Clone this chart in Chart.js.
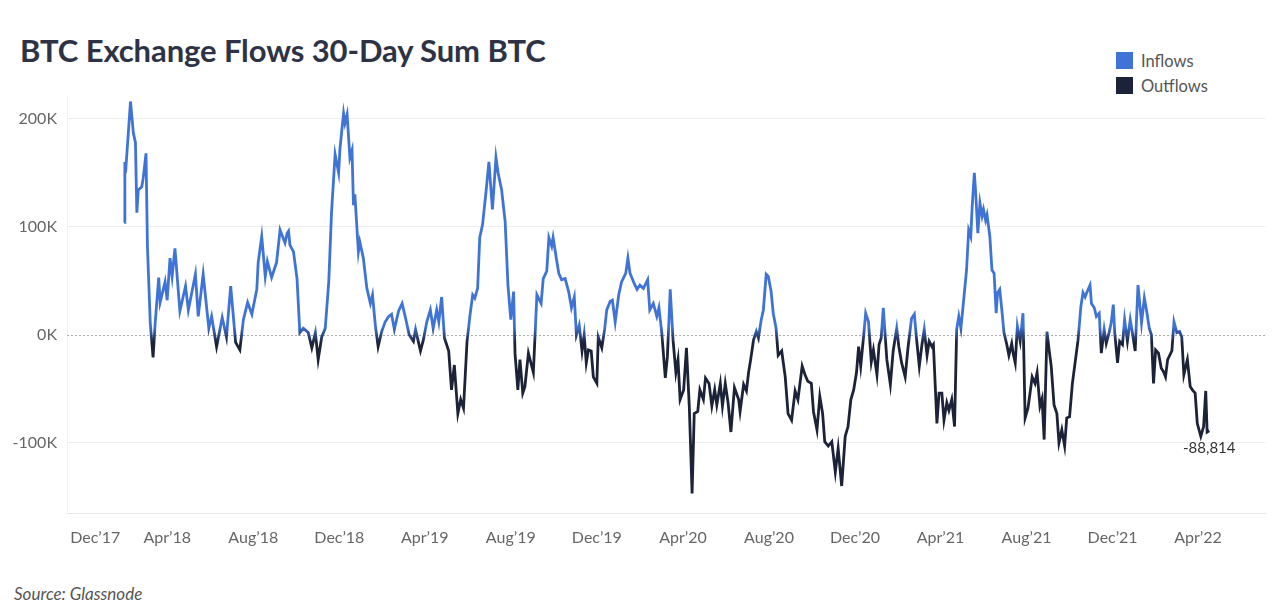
<!DOCTYPE html>
<html>
<head>
<meta charset="utf-8">
<script src="https://cdn.jsdelivr.net/npm/chart.js@4.4.1/dist/chart.umd.min.js"></script>
<style>
  html, body { margin:0; padding:0; background:#fff; }
  body { width:1280px; height:609px; position:relative; overflow:hidden; font-family:Lato, "Noto Sans", sans-serif; }
  #title { position:absolute; left:20px; top:31px; font-size:31px; font-weight:700; color:#2d3345; white-space:nowrap; letter-spacing:-0.1px; }
  .leg { position:absolute; left:1116px; font-size:16.5px; color:#555; white-space:nowrap; }
  .leg i { display:inline-block; width:17px; height:17px; vertical-align:middle; margin-right:8px; position:relative; top:-2px; }
  #src { position:absolute; left:14px; top:583px; font-size:17px; font-style:italic; color:#555; }
  #cv { position:absolute; left:0; top:0; }
</style>
</head>
<body>
<div id="title">BTC Exchange Flows 30-Day Sum BTC</div>
<div class="leg" style="top:51px"><i style="background:#3f73d5"></i>Inflows</div>
<div class="leg" style="top:76px"><i style="background:#1c2237"></i>Outflows</div>
<div id="src">Source: Glassnode</div>
<canvas id="cv" width="1280" height="609"></canvas>
<script>
// x = days since 1 Dec 2017, y = 30-day net exchange flow in thousands of BTC
const dayOffsets = [
  60,61,62,69,73,76,78,80,85,87,91,93,97,101,104,109,111,118,121,125,128,132,139,147,151,161,165,172,180,184,
  191,199,205,211,218,224,229,235,241,248,250,255,260,263,269,276,281,288,291,293,295,300,305,309,314,321,326,331,335,340,
  345,350,354,359,364,366,371,373,376,380,383,385,387,392,394,399,404,409,412,416,420,425,430,435,439,443,449,454,459,464,
  470,473,480,484,489,494,498,503,506,510,514,520,524,528,533,537,541,546,550,554,557,561,564,568,573,577,582,587,590,595,
  600,604,608,612,614,618,621,625,628,633,640,645,651,654,659,662,666,668,673,676,680,685,690,694,698,701,705,709,712,715,
  718,722,725,730,732,737,741,744,749,752,756,761,765,771,774,777,782,787,791,796,802,805,810,815,818,822,827,830,834,838,
  842,845,848,853,857,861,865,868,873,876,881,884,889,893,897,900,905,908,912,916,920,925,931,933,938,942,945,948,952,956,
  959,963,966,970,973,977,980,984,987,992,997,1001,1006,1011,1015,1021,1025,1029,1034,1037,1042,1046,1050,1053,1058,1063,1068,1072,1077,1082,
  1086,1090,1094,1098,1101,1104,1108,1111,1115,1119,1122,1127,1130,1133,1136,1141,1146,1150,1155,1158,1162,1167,1171,1176,1180,1183,1187,1191,1194,1198,
  1201,1205,1207,1212,1215,1219,1222,1226,1229,1233,1237,1240,1243,1246,1249,1254,1257,1260,1262,1265,1267,1270,1273,1276,1278,1281,1283,1287,1290,1293,
  1296,1298,1301,1304,1307,1311,1314,1318,1320,1323,1326,1330,1334,1337,1341,1344,1347,1351,1354,1358,1361,1364,1368,1371,1374,1378,1382,1385,1389,1393,
  1396,1400,1404,1409,1412,1416,1419,1422,1425,1429,1431,1435,1438,1442,1445,1449,1452,1456,1459,1462,1464,1468,1471,1475,1478,1482,1486,1489,1493,1497,
  1502,1506,1509,1513,1516,1519,1522,1526,1530,1533,1536,1539,1545,1548,1552,1556,1559,1562,1567,1571,1574,1578,1581,1586,1590,1593,1595,1598
];
const flowsK = [
  104,160,150,216,187,178,113,134,137,145,168,82,11,-21,11,53,30,49,32,71,54,80,22,45,23,56,17,56,6,17,
  -11,16,-2,45,-7,-14,14,30,19,42,67,91,54,68,53,67,97,85,94,96,83,77,52,2,6,2,-12,2,-23,-2,
  6,49,114,167,150,173,205,196,204,164,171,120,130,77,86,71,43,29,37,9,-11,3,12,17,19,5,22,29,15,0,
  -6,5,-15,-5,12,23,6,23,12,35,-3,-15,-51,-28,-73,-60,-68,-6,17,37,34,43,90,102,133,160,116,164,150,134,
  105,46,14,40,-17,-51,-23,-54,-48,-17,-35,37,29,52,59,90,82,90,69,57,51,52,40,25,35,0,9,-15,0,-26,
  -14,-15,-39,-45,-2,-12,5,23,31,32,12,37,49,57,71,57,49,42,46,43,51,23,29,17,25,2,-40,-20,42,-5,
  -35,-23,-60,-51,-12,-66,-147,-73,-71,-51,-60,-40,-45,-66,-51,-65,-45,-66,-45,-63,-90,-49,-60,-71,-46,-52,-35,-23,-5,3,
  -3,14,23,56,54,40,20,6,-19,-15,-39,-73,-79,-52,-60,-29,-37,-43,-45,-71,-88,-57,-73,-99,-103,-99,-127,-105,-140,-94,
  -85,-60,-51,-35,-11,-29,-2,20,12,-25,-14,-37,-9,-3,25,-23,-46,-15,6,-11,-26,-39,-12,15,19,-3,-29,-8,5,-19,
  -6,-11,-9,-82,-54,-54,-79,-63,-70,-60,-85,5,17,6,26,60,97,91,119,150,131,94,122,110,116,106,111,91,60,57,
  20,39,42,23,2,-9,-19,-8,-17,-26,8,-6,20,-77,-68,-54,-39,-45,-35,-66,-59,-97,3,-14,-29,-65,-73,-100,-88,-103,
  -77,-76,-45,-20,-5,26,39,35,40,46,29,25,17,20,-17,5,-8,2,11,28,2,-26,-6,-9,14,-6,14,2,-15,46,
  11,34,23,6,0,-45,-14,-17,-31,-34,-39,-23,-15,12,2,3,-2,-37,-23,-48,-51,-54,-82,-94,-85,-52,-90,-88.814
];
const tickDays   = [19,121,243,365,486,608,730,852,974,1096,1217,1339,1461,1582];
const tickLabels = ['Dec’17','Apr’18','Aug’18','Dec’18','Apr’19','Aug’19','Dec’19','Apr’20','Aug’20','Dec’20','Apr’21','Aug’21','Dec’21','Apr’22'];
const yTicks     = [-100000, 0, 100000, 200000];

const BLUE = '#3f73d5', NAVY = '#1c2237';
const points = dayOffsets.map((d, i) => ({ x: d, y: flowsK[i] * 1000 }));

// blue above zero, navy below, short blend at the zero line
function lineColor(ctx) {
  const ch = ctx.chart, area = ch.chartArea;
  if (!area) return BLUE;
  const y0 = ch.scales.y.getPixelForValue(0);
  const h = area.bottom - area.top;
  const t = (y0 - area.top) / h, b = 8 / h;
  const g = ch.ctx.createLinearGradient(0, area.top, 0, area.bottom);
  g.addColorStop(0, BLUE);
  g.addColorStop(Math.max(0, t - b), BLUE);
  g.addColorStop(Math.min(1, t + b), NAVY);
  g.addColorStop(1, NAVY);
  return g;
}

const zeroLine = {
  id: 'zeroLine',
  beforeDatasetsDraw(ch) {
    const { ctx, chartArea: a } = ch;
    const y = Math.round(ch.scales.y.getPixelForValue(0)) + 0.5;
    ctx.save();
    ctx.strokeStyle = '#a9a9a9'; ctx.lineWidth = 1; ctx.setLineDash([2, 2]);
    ctx.beginPath(); ctx.moveTo(a.left, y); ctx.lineTo(a.right, y); ctx.stroke();
    ctx.restore();
  }
};

const lastLabel = {
  id: 'lastLabel',
  afterDatasetsDraw(ch) {
    const meta = ch.getDatasetMeta(0);
    const p = meta.data[meta.data.length - 1];
    const v = flowsK[flowsK.length - 1] * 1000;
    const ctx = ch.ctx;
    ctx.save();
    ctx.font = '15px Lato, "Noto Sans", sans-serif';
    ctx.fillStyle = '#333'; ctx.textAlign = 'center'; ctx.textBaseline = 'middle';
    ctx.fillText(Math.round(v).toLocaleString('en-US'), p.x, p.y + 17);
    ctx.restore();
  }
};

new Chart(document.getElementById('cv'), {
  type: 'line',
  data: { datasets: [{ label: 'Flows', data: points, borderColor: lineColor, borderWidth: 2.8, pointRadius: 0, tension: 0, fill: false }] },
  options: {
    responsive: false, animation: false, events: [],
    layout: { padding: { left: 0, right: 15, top: 95, bottom: 56 } },
    plugins: { legend: { display: false }, tooltip: { enabled: false } },
    scales: {
      x: {
        type: 'linear', min: -21, max: 1677,
        afterBuildTicks: s => { s.ticks = tickDays.map(v => ({ value: v })); },
        afterFit: s => { s.height = 40; },
        ticks: { autoSkip: false, maxRotation: 0, padding: 15, color: '#666', font: { family: 'Lato', size: 16 },
                 callback: (v, i) => tickLabels[i] },
        grid: { display: false, drawTicks: false },
        border: { display: true, color: '#e6e6e6' }
      },
      y: {
        min: -165000, max: 222000,
        afterBuildTicks: s => { s.ticks = yTicks.map(v => ({ value: v })); },
        afterFit: s => { s.width = 67; },
        ticks: { padding: 10, color: '#666', font: { family: 'Lato', size: 16 }, callback: v => (v / 1000) + 'K' },
        grid: { drawTicks: false, color: c => c.tick && c.tick.value === 0 ? 'rgba(0,0,0,0)' : '#eeeeee' },
        border: { display: true, color: '#f4f4f4' }
      }
    }
  },
  plugins: [zeroLine, lastLabel]
});
</script>
</body>
</html>
